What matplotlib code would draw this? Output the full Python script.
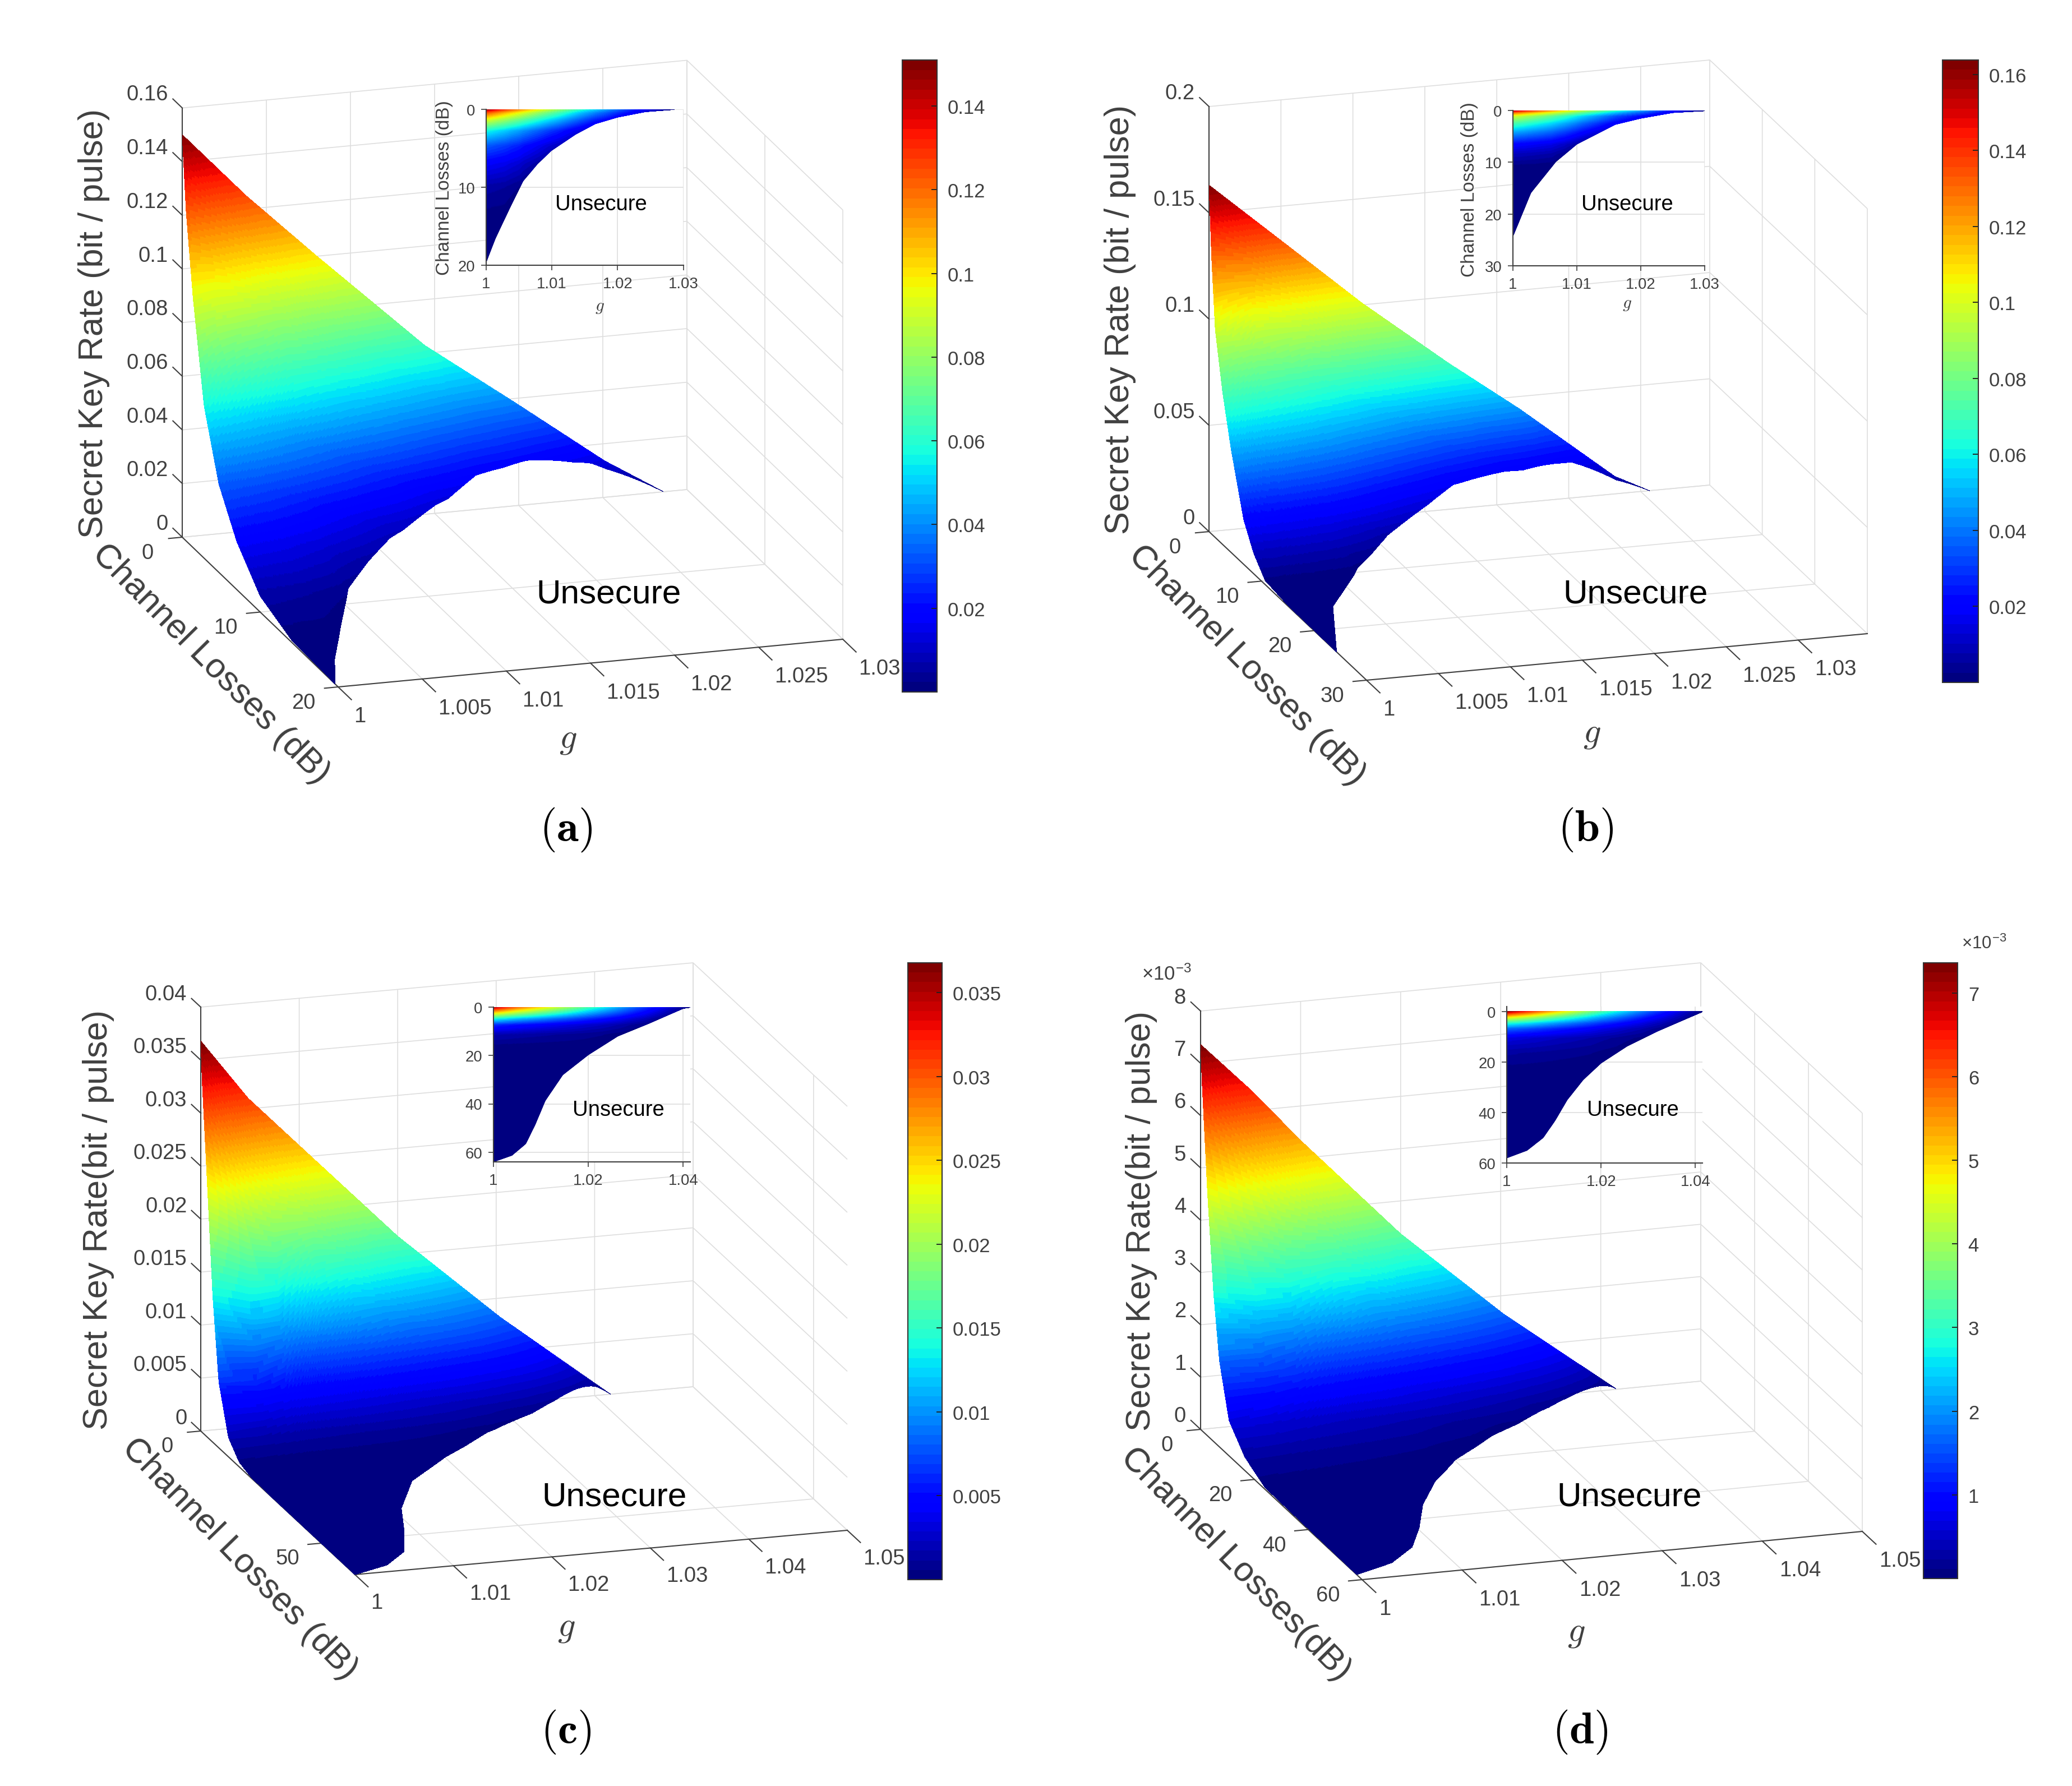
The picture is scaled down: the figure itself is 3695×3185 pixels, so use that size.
"""Secret key rate surfaces (four panels) with top-view insets and colorbars."""

import numpy as np
import matplotlib
matplotlib.use("Agg")
import matplotlib.pyplot as plt
from matplotlib.colors import Normalize
from matplotlib.colorbar import ColorbarBase
from mpl_toolkits.mplot3d import proj3d

plt.rcParams["font.family"] = ["Liberation Sans", "DejaVu Sans"]
plt.rcParams["mathtext.fontset"] = "cm"

W, H = 3695, 3186
DPI = 300
TICK_COLOR = "#404040"
GRID_COLOR = "#dedede"

# ---- values ----
# rate along the L = 0 edge
a_top_g = [1, 1.0038, 1.008, 1.0144, 1.0197, 1.0251, 1.0286]
a_top_rate = [0.150, 0.125, 0.100, 0.063, 0.0388, 0.0136, 0]
b_top_g = [1, 1.00565, 1.0106, 1.0166, 1.0216, 1.0282, 1.0306]
b_top_rate = [0.163, 0.130, 0.101, 0.069, 0.044, 0.0082, 0]
c_top_g = [1, 1.0048, 1.01, 1.02, 1.0304, 1.0364, 1.0416]
c_top_rate = [0.0368, 0.0310, 0.0261, 0.0167, 0.0082, 0.0038, 0]
d_top_g = [1, 1.005, 1.0101, 1.02, 1.0302, 1.0365, 1.0416]
d_top_rate = [0.00736, 0.0064, 0.00532, 0.00337, 0.00166, 0.00074, 0]

# relative rate along the g = 1 edge
a_decay_L = [0, 0.5, 1.4, 2.8, 4.7, 7, 10, 14, 20]
a_decay = [1, 0.82, 0.62, 0.38, 0.22, 0.12, 0.04, 0.006, 0]
b_decay_L = [0, 0.5, 1.2, 2.6, 4.2, 6.6, 8.5, 10.7, 15, 25]
b_decay = [1, 0.8, 0.6, 0.44, 0.3, 0.13, 0.06, 0.012, 0.002, 0]
c_decay_L = [0, 0.6, 2.9, 5, 7.5, 11.5, 16, 21, 30, 64]
c_decay = [1, 0.9, 0.63, 0.375, 0.17, 0.05, 0.012, 0.002, 0, 0]
d_decay_L = [0, 0.6, 2.6, 4.8, 7, 10.6, 16.5, 24, 60]
d_decay = [1, 0.9, 0.63, 0.39, 0.225, 0.092, 0.035, 0.005, 0]

# secure / unsecure boundary
a_edge_g = [1, 1.00137, 1.0035, 1.0056, 1.0078, 1.0099, 1.0136, 1.0166, 1.02, 1.0242, 1.0286]
a_edge_L = [19.6, 16.6, 12.8, 9.2, 7.0, 5.3, 3.2, 1.85, 1.0, 0.3, 0]
b_edge_g = [1, 1.0028, 1.0067, 1.01, 1.016, 1.02, 1.025, 1.0306]
b_edge_L = [24.3, 15.9, 9.9, 6.5, 2.7, 1.5, 0.4, 0]
c_edge_g = [1, 1.0039, 1.0068, 1.0088, 1.0109, 1.0146, 1.02, 1.0262, 1.0328, 1.04, 1.0416]
c_edge_L = [64, 61.3, 56.5, 48.5, 38.7, 28, 19.7, 12, 6.7, 0.5, 0]
d_edge_g = [1, 1.0043, 1.0077, 1.0102, 1.0128, 1.0162, 1.02, 1.0255, 1.0319, 1.0415]
d_edge_L = [58, 55, 50, 43.3, 35, 27, 20.4, 13.7, 7.8, 0]

# axes, ticks and labels
a_g_ticks = [1, 1.005, 1.01, 1.015, 1.02, 1.025, 1.03]
a_g_labels = ["1", "1.005", "1.01", "1.015", "1.02", "1.025", "1.03"]
a_L_ticks = [0, 10, 20]
a_z_ticks = [0, 0.02, 0.04, 0.06, 0.08, 0.1, 0.12, 0.14, 0.16]
a_z_labels = ["0", "0.02", "0.04", "0.06", "0.08", "0.1", "0.12", "0.14", "0.16"]
a_cb_ticks = [0.02, 0.04, 0.06, 0.08, 0.1, 0.12, 0.14]
a_cb_labels = ["0.02", "0.04", "0.06", "0.08", "0.1", "0.12", "0.14"]

b_g_ticks = a_g_ticks
b_g_labels = a_g_labels
b_L_ticks = [0, 10, 20, 30]
b_z_ticks = [0, 0.05, 0.1, 0.15, 0.2]
b_z_labels = ["0", "0.05", "0.1", "0.15", "0.2"]
b_cb_ticks = [0.02, 0.04, 0.06, 0.08, 0.1, 0.12, 0.14, 0.16]
b_cb_labels = ["0.02", "0.04", "0.06", "0.08", "0.1", "0.12", "0.14", "0.16"]

c_g_ticks = [1, 1.01, 1.02, 1.03, 1.04, 1.05]
c_g_labels = ["1", "1.01", "1.02", "1.03", "1.04", "1.05"]
c_L_ticks = [0, 50]
c_z_ticks = [0, 0.005, 0.01, 0.015, 0.02, 0.025, 0.03, 0.035, 0.04]
c_z_labels = ["0", "0.005", "0.01", "0.015", "0.02", "0.025", "0.03", "0.035", "0.04"]
c_cb_ticks = [0.005, 0.01, 0.015, 0.02, 0.025, 0.03, 0.035]
c_cb_labels = ["0.005", "0.01", "0.015", "0.02", "0.025", "0.03", "0.035"]

d_g_ticks = c_g_ticks
d_g_labels = c_g_labels
d_L_ticks = [0, 20, 40, 60]
d_z_ticks = [0, 0.001, 0.002, 0.003, 0.004, 0.005, 0.006, 0.007, 0.008]
d_z_labels = ["0", "1", "2", "3", "4", "5", "6", "7", "8"]
d_cb_ticks = [0.001, 0.002, 0.003, 0.004, 0.005, 0.006, 0.007]
d_cb_labels = ["1", "2", "3", "4", "5", "6", "7"]

inset_g_short = [1, 1.01, 1.02, 1.03]
inset_g_short_labels = ["1", "1.01", "1.02", "1.03"]
inset_g_long = [1, 1.02, 1.04]
inset_g_long_labels = ["1", "1.02", "1.04"]

# ---- layout, in pixels of the final picture ----
PANELS = [
    dict(tag="a", A=(325, 959), F=(603, 1226), R=(1503, 1141), top=193.5,
         glim=(1, 1.03), Llim=(0, 20), zlim=(0, 0.16), vmax=0.151,
         top_g=a_top_g, top_rate=a_top_rate, decay_L=a_decay_L, decay=a_decay,
         edge_g=a_edge_g, edge_L=a_edge_L,
         g_ticks=a_g_ticks, g_labels=a_g_labels, L_ticks=a_L_ticks,
         z_ticks=a_z_ticks, z_labels=a_z_labels,
         cb_ticks=a_cb_ticks, cb_labels=a_cb_labels, cb=(1609, 108, 1671, 1235),
         zlabel="Secret Key Rate (bit / pulse)", zlabel_xy=(168, 577),
         Llabel="Channel Losses (dB)", Llabel_xy=(376, 1185), Lrot=-45.3,
         glabel_xy=(1013, 1319), unsecure=(1086, 1060), caption=(1009, 1480),
         inset=(867, 196, 1218.6, 474), in_glim=(1, 1.03), in_Llim=(20, 0),
         in_g=inset_g_short, in_g_labels=inset_g_short_labels, in_L=[0, 10, 20],
         in_unsecure=(1072, 365), in_ylabel=(792, 335), in_glabel=(1069, 547)),
    dict(tag="b", A=(2156, 949), F=(2437, 1214), R=(3330, 1131), top=191,
         glim=(1, 1.0348), Llim=(0, 30), zlim=(0, 0.2), vmax=0.1638,
         top_g=b_top_g, top_rate=b_top_rate, decay_L=b_decay_L, decay=b_decay,
         edge_g=b_edge_g, edge_L=b_edge_L,
         g_ticks=b_g_ticks, g_labels=b_g_labels, L_ticks=b_L_ticks,
         z_ticks=b_z_ticks, z_labels=b_z_labels,
         cb_ticks=b_cb_ticks, cb_labels=b_cb_labels, cb=(3464, 108, 3528, 1218),
         zlabel="Secret Key Rate (bit / pulse)", zlabel_xy=(1998, 570),
         Llabel="Channel Losses (dB)", Llabel_xy=(2223, 1187), Lrot=-45.4,
         glabel_xy=(2839, 1308), unsecure=(2917, 1060), caption=(2828, 1480),
         inset=(2698, 198, 3040, 475), in_glim=(1, 1.03), in_Llim=(30, 0),
         in_g=inset_g_short, in_g_labels=inset_g_short_labels, in_L=[0, 10, 20, 30],
         in_unsecure=(2902, 365), in_ylabel=(2620, 338), in_glabel=(2901, 542)),
    dict(tag="c", A=(358, 2553), F=(633, 2809), R=(1511, 2730), top=1797,
         glim=(1, 1.05), Llim=(0, 64), zlim=(0, 0.04), vmax=0.03677,
         top_g=c_top_g, top_rate=c_top_rate, decay_L=c_decay_L, decay=c_decay,
         edge_g=c_edge_g, edge_L=c_edge_L,
         g_ticks=c_g_ticks, g_labels=c_g_labels, L_ticks=c_L_ticks,
         z_ticks=c_z_ticks, z_labels=c_z_labels,
         cb_ticks=c_cb_ticks, cb_labels=c_cb_labels, cb=(1619, 1718, 1680, 2818),
         zlabel="Secret Key Rate(bit / pulse)", zlabel_xy=(176, 2176),
         Llabel="Channel Losses (dB)", Llabel_xy=(427, 2781), Lrot=-45.8,
         glabel_xy=(1010, 2903), unsecure=(1096, 2670), caption=(1009, 3089),
         inset=(880, 1797, 1231, 2073), in_glim=(1, 1.0415), in_Llim=(64, 0),
         in_g=inset_g_long, in_g_labels=inset_g_long_labels, in_L=[0, 20, 40, 60],
         in_unsecure=(1103, 1980), in_ylabel=None, in_glabel=None),
    dict(tag="d", A=(2141, 2550), F=(2429, 2818), R=(3321, 2732), top=1804,
         glim=(1, 1.05), Llim=(0, 60), zlim=(0, 0.008), vmax=0.00736,
         top_g=d_top_g, top_rate=d_top_rate, decay_L=d_decay_L, decay=d_decay,
         edge_g=d_edge_g, edge_L=d_edge_L,
         g_ticks=d_g_ticks, g_labels=d_g_labels, L_ticks=d_L_ticks,
         z_ticks=d_z_ticks, z_labels=d_z_labels,
         cb_ticks=d_cb_ticks, cb_labels=d_cb_labels, cb=(3430, 1718, 3491, 2816),
         zlabel="Secret Key Rate(bit / pulse)", zlabel_xy=(2036, 2177),
         Llabel="Channel Losses(dB)", Llabel_xy=(2203, 2790), Lrot=-45.4,
         glabel_xy=(2811, 2912), unsecure=(2906, 2670), caption=(2818, 3089),
         inset=(2687, 1796, 3036, 2075), in_glim=(1, 1.0415), in_Llim=(60, -2),
         in_g=inset_g_long, in_g_labels=inset_g_long_labels, in_L=[0, 20, 40, 60],
         in_unsecure=(2912, 1980), in_ylabel=None, in_glabel=None,
         exponent=(2080, 1738), cb_exponent=(3538, 1683)),
]

EDGE_LIFT = 0.55  # how much of the L = Lmax rate is taken off, surface keeps a small rate there
CMAP = plt.get_cmap("jet", 64)


def px_text(fig, xy, s, **kw):
    return fig.text(xy[0] / W, 1 - xy[1] / H, s, **kw)


def px_rect(x0, y0, x1, y1):
    return [x0 / W, 1 - y1 / H, (x1 - x0) / W, (y1 - y0) / H]


def build_surface(p):
    """Dense render mesh resampled from the three read profiles."""
    g_end = p["edge_g"][-1]
    g = np.linspace(1, g_end, 320)
    t = np.linspace(0, 1, 220) ** 1.8
    G, T = np.meshgrid(g, t)
    Lmax = np.interp(G, p["edge_g"], p["edge_L"])
    L = T * Lmax
    top = np.interp(G, p["top_g"], p["top_rate"])
    d = np.interp(L, p["decay_L"], p["decay"])
    dm = np.interp(Lmax, p["decay_L"], p["decay"])
    Z = top * (d - EDGE_LIFT * dm) / (1 - EDGE_LIFT * dm)
    return G, L, Z


def view_from_corners(p):
    """View angles and box aspect that put the box corners on the wanted pixels."""
    ax_, ay_ = p["A"]
    fx, fy = p["F"]
    rx, ry = p["R"]
    gx, gy = rx - fx, fy - ry
    lx, ly = fx - ax_, fy - ay_
    ang = np.arctan(np.sqrt(gx * ly / (gy * lx)))
    s, c = np.sin(ang), np.cos(ang)
    size_g = gx / s
    sin_e = gy / (size_g * c)
    elev = np.degrees(np.arcsin(sin_e))
    azim = -(180 - np.degrees(ang))
    size_L = lx / c
    size_z = (ay_ - p["top"]) / np.cos(np.radians(elev))
    return elev, azim, (size_g, size_L, size_z)


def project_px(ax, pts):
    M = ax.get_proj()
    out = []
    for x, y, z in pts:
        u, v, _ = proj3d.proj_transform(x, y, z, M)
        out.append((u, v))
    return ax.transData.transform(out)


def place_axes(ax, p, fig):
    """Scale and move the square 3D axes until the g axis sits on its pixels."""
    g0, g1 = p["glim"]
    L1 = p["Llim"][1]
    pts = [(g0, 0, 0), (g1, L1, 0)]
    target = np.array([[p["A"][0], H - p["A"][1]], [p["R"][0], H - p["R"][1]]], float)
    side, cx, cy = 1500.0, W / 2, H / 2
    for _ in range(4):
        ax.set_position([(cx - side / 2) / W, (cy - side / 2) / H, side / W, side / H])
        ax.apply_aspect()
        got = project_px(ax, pts)
        scale = np.linalg.norm(target[1] - target[0]) / np.linalg.norm(got[1] - got[0])
        side *= scale
        ax.set_position([(cx - side / 2) / W, (cy - side / 2) / H, side / W, side / H])
        ax.apply_aspect()
        got = project_px(ax, pts)
        cx += (target - got)[:, 0].mean()
        cy += (target - got)[:, 1].mean()
    ax.set_position([(cx - side / 2) / W, (cy - side / 2) / H, side / W, side / H])


def style_axis3d(axis):
    axis.set_pane_color((1, 1, 1, 0))
    axis.pane.set_edgecolor("#c4c4c4")
    axis.pane.set_linewidth(0.45)
    axis.line.set_color((1, 1, 1, 0))
    axis.set_ticklabels([])
    axis._axinfo["grid"].update(color=GRID_COLOR, linewidth=0.4, linestyle="-")
    axis._axinfo["tick"].update(inward_factor=0, outward_factor=0)


def draw_main(fig, p, G, L, Z):
    ax = fig.add_axes([0.2, 0.2, 0.5, 0.5], projection="3d", proj_type="ortho",
                      computed_zorder=False)
    ax.set_facecolor("none")
    elev, azim, aspect = view_from_corners(p)
    ax.view_init(elev=elev, azim=azim)
    ax.set_box_aspect(aspect)

    g0, g1 = p["glim"]
    L1 = p["Llim"][1]
    z1 = p["zlim"][1]
    dg = g1 - g0

    ax.plot_surface(G, L, Z, rstride=1, cstride=1, cmap=CMAP,
                    norm=Normalize(0, p["vmax"]), linewidth=0, antialiased=False,
                    shade=False, zorder=3)

    line = dict(color=TICK_COLOR, linewidth=0.5, zorder=2)
    ax.plot([g0, g0], [0, 0], [0, z1], **line)
    ax.plot([g0, g0], [0, L1], [0, 0], **line)
    ax.plot([g0, g1], [L1, L1], [0, 0], **line)

    label = dict(fontsize=9.2, color=TICK_COLOR, zorder=5)
    for z, s in zip(p["z_ticks"], p["z_labels"]):
        ax.plot([g0, g0], [0, -0.06 * L1], [z, z], **line)
        ax.text(g0, -0.09 * L1, z, s, ha="right", va="center", **label)
    for v in p["L_ticks"]:
        ax.plot([g0, g0 - 0.027 * dg], [v, v], [0, 0], **line)
        ax.text(g0 - 0.092 * dg, v + 0.0755 * L1, 0, str(v), ha="center", va="center", **label)
    for v, s in zip(p["g_ticks"], p["g_labels"]):
        ax.plot([v, v], [L1, L1 * 1.085], [0, 0], **line)
        ax.text(v - 0.0264 * dg, L1 * 1.1864, 0, s, ha="left", va="center", **label)

    ax.set_xticks(p["g_ticks"])
    ax.set_yticks(p["L_ticks"])
    ax.set_zticks(p["z_ticks"])
    for axis in (ax.xaxis, ax.yaxis, ax.zaxis):
        style_axis3d(axis)
    ax.set_xlim(g0, g1, view_margin=0)
    ax.set_ylim(L1, 0, view_margin=0)
    ax.set_zlim(0, z1, view_margin=0)
    place_axes(ax, p, fig)
    return ax


def draw_inset(fig, p, G, L, Z):
    ax = fig.add_axes(px_rect(*p["inset"]))
    ax.set_facecolor("white")
    ax.pcolormesh(G, L, Z, cmap=CMAP, norm=Normalize(0, p["vmax"]),
                  shading="gouraud", zorder=2)
    ax.set_xlim(*p["in_glim"])
    ax.set_ylim(*p["in_Llim"])
    ax.set_xticks(p["in_g"], labels=p["in_g_labels"])
    ax.set_yticks(p["in_L"])
    ax.grid(True, color=GRID_COLOR, linewidth=0.4, zorder=1)
    ax.tick_params(labelsize=6.6, colors=TICK_COLOR, length=2.2, width=0.4, pad=2.5)
    for name in ("top", "right"):
        ax.spines[name].set_visible(False)
    for name in ("left", "bottom"):
        ax.spines[name].set_linewidth(0.5)
        ax.spines[name].set_color(TICK_COLOR)
    if p["in_ylabel"]:
        px_text(fig, p["in_ylabel"], "Channel Losses (dB)", fontsize=8, color=TICK_COLOR,
                rotation=90, ha="center", va="center")
    if p["in_glabel"]:
        px_text(fig, p["in_glabel"], "$g$", fontsize=7.5, color=TICK_COLOR,
                ha="center", va="center")
    px_text(fig, p["in_unsecure"], "Unsecure", fontsize=9.2, color="black",
            ha="center", va="center", zorder=10)


def draw_colorbar(fig, p):
    cax = fig.add_axes(px_rect(*p["cb"]))
    cb = ColorbarBase(cax, cmap=CMAP, norm=Normalize(0, p["vmax"]), orientation="vertical")
    cb.set_ticks(p["cb_ticks"], labels=p["cb_labels"])
    cb.ax.tick_params(direction="in", length=2.4, width=0.45, labelsize=8.3,
                      colors=TICK_COLOR, pad=4.5)
    cb.ax.yaxis.set_tick_params(color="#222222")
    cb.outline.set_linewidth(0.5)
    cb.outline.set_edgecolor("#333333")
    cb.ax.minorticks_off()


def main():
    fig = plt.figure(figsize=(W / DPI, H / DPI), dpi=DPI, facecolor="white")

    for p in PANELS:
        G, L, Z = build_surface(p)
        draw_main(fig, p, G, L, Z)
        draw_inset(fig, p, G, L, Z)
        draw_colorbar(fig, p)

        px_text(fig, p["zlabel_xy"], p["zlabel"], fontsize=14.7, color=TICK_COLOR,
                rotation=90, ha="center", va="center")
        px_text(fig, p["Llabel_xy"], p["Llabel"], fontsize=14.8, color=TICK_COLOR,
                rotation=p["Lrot"], rotation_mode="anchor", ha="center", va="center")
        px_text(fig, p["glabel_xy"], "$g$", fontsize=15, color=TICK_COLOR,
                ha="center", va="center")
        px_text(fig, p["unsecure"], "Unsecure", fontsize=14.5, color="black",
                ha="center", va="center", zorder=10)
        px_text(fig, p["caption"], "$(\\mathbf{%s})$" % p["tag"], fontsize=19,
                color="black", ha="center", va="center")
        if "exponent" in p:
            px_text(fig, p["exponent"], "×10$^{\\mathregular{-3}}$", fontsize=8.3,
                    color=TICK_COLOR, ha="center", va="center")
            px_text(fig, p["cb_exponent"], "×10$^{\\mathregular{-3}}$", fontsize=7.5,
                    color=TICK_COLOR, ha="center", va="center")

    fig.savefig("out.png", dpi=DPI)
    plt.close(fig)


if __name__ == "__main__":
    main()
